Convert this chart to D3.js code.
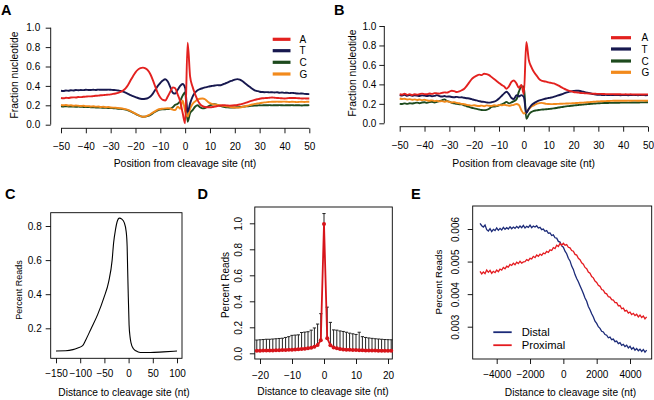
<!DOCTYPE html>
<html><head><meta charset="utf-8">
<script src="https://cdn.jsdelivr.net/npm/d3@7"></script>
<style>body{margin:0;background:#fff;} svg{display:block;}</style>
</head><body><svg id="c" width="654" height="400"></svg>
<script>
// ---------------- DATA ----------------
const nucPositions = d3.range(-50, 51);           // -50 .. 50 nt
const nucTicks = [-50,-40,-30,-20,-10,0,10,20,30,40,50];
const fracTicks = [0,0.2,0.4,0.6,0.8,1.0];
const nucNames = ["A","T","C","G"];

const panelA_A = [0.275,0.272,0.278,0.276,0.280,0.282,0.281,0.285,0.284,0.288,
 0.289,0.292,0.292,0.295,0.298,0.300,0.303,0.305,0.308,0.310,
 0.313,0.318,0.322,0.328,0.338,0.352,0.375,0.410,0.455,0.500,
 0.540,0.568,0.583,0.588,0.580,0.560,0.520,0.460,0.390,0.325,
 0.280,0.255,0.250,0.290,0.340,0.385,0.375,0.310,0.240,0.120,
 0.015,
 0.845,0.495,0.390,0.316,0.254,0.213,0.192,0.182,0.180,0.180,
 0.182,0.188,0.192,0.196,0.200,0.200,0.198,0.197,0.198,0.200,
 0.203,0.208,0.215,0.222,0.230,0.240,0.248,0.256,0.262,0.268,
 0.272,0.274,0.276,0.278,0.280,0.278,0.276,0.274,0.272,0.270,
 0.272,0.275,0.276,0.275,0.274,0.272,0.270,0.271,0.270,0.270];
const panelA_T = [0.350,0.348,0.352,0.350,0.355,0.353,0.357,0.355,0.358,0.356,
 0.360,0.358,0.357,0.360,0.358,0.362,0.360,0.361,0.360,0.362,
 0.360,0.358,0.356,0.352,0.348,0.340,0.330,0.318,0.305,0.295,
 0.285,0.275,0.268,0.265,0.268,0.275,0.290,0.320,0.360,0.400,
 0.430,0.455,0.468,0.445,0.390,0.330,0.320,0.360,0.400,0.420,
 0.380,
 0.130,0.220,0.290,0.330,0.355,0.368,0.376,0.384,0.390,0.396,
 0.400,0.404,0.408,0.406,0.414,0.424,0.434,0.446,0.455,0.465,
 0.470,0.465,0.450,0.430,0.410,0.390,0.370,0.355,0.347,0.340,
 0.337,0.335,0.336,0.333,0.335,0.332,0.334,0.330,0.332,0.328,
 0.330,0.326,0.328,0.325,0.322,0.320,0.322,0.318,0.316,0.315];
const panelA_C = [0.190,0.188,0.190,0.187,0.188,0.186,0.185,0.186,0.184,0.183,
 0.182,0.183,0.180,0.180,0.178,0.178,0.176,0.175,0.174,0.172,
 0.172,0.170,0.168,0.165,0.163,0.160,0.155,0.148,0.138,0.125,
 0.112,0.098,0.088,0.082,0.083,0.090,0.102,0.118,0.135,0.148,
 0.155,0.158,0.160,0.162,0.165,0.180,0.205,0.215,0.245,0.300,
 0.335,
 0.030,0.120,0.150,0.185,0.200,0.180,0.168,0.172,0.185,0.198,
 0.208,0.212,0.205,0.195,0.188,0.183,0.180,0.178,0.177,0.178,
 0.180,0.182,0.185,0.188,0.190,0.192,0.195,0.197,0.198,0.200,
 0.199,0.201,0.200,0.202,0.199,0.201,0.200,0.202,0.200,0.199,
 0.201,0.200,0.202,0.199,0.201,0.200,0.198,0.201,0.200,0.202];
const panelA_G = [0.205,0.200,0.203,0.198,0.200,0.196,0.198,0.195,0.193,0.195,
 0.190,0.192,0.188,0.190,0.186,0.187,0.183,0.185,0.180,0.182,
 0.178,0.176,0.175,0.172,0.170,0.165,0.160,0.152,0.140,0.128,
 0.115,0.100,0.088,0.082,0.085,0.095,0.108,0.125,0.140,0.155,
 0.162,0.165,0.168,0.170,0.168,0.155,0.150,0.185,0.165,0.250,
 0.140,
 0.085,0.165,0.215,0.240,0.258,0.268,0.270,0.262,0.240,0.222,
 0.212,0.208,0.205,0.200,0.196,0.192,0.188,0.184,0.180,0.177,
 0.176,0.178,0.182,0.188,0.195,0.202,0.208,0.214,0.218,0.222,
 0.226,0.230,0.233,0.235,0.237,0.236,0.238,0.236,0.237,0.238,
 0.236,0.234,0.236,0.235,0.233,0.235,0.236,0.234,0.236,0.237];

const panelB_A = [0.298,0.295,0.305,0.292,0.300,0.290,0.298,0.295,0.300,0.305,
 0.300,0.298,0.306,0.302,0.310,0.308,0.305,0.312,0.318,0.315,
 0.325,0.335,0.330,0.322,0.328,0.340,0.355,0.385,0.420,0.455,
 0.475,0.490,0.500,0.495,0.510,0.505,0.495,0.475,0.455,0.435,
 0.415,0.395,0.380,0.355,0.380,0.425,0.440,0.410,0.365,0.395,
 0.300,
 0.835,0.650,0.580,0.530,0.495,0.460,0.440,0.432,0.428,0.420,
 0.415,0.410,0.400,0.388,0.372,0.358,0.345,0.335,0.328,0.322,
 0.318,0.315,0.312,0.310,0.308,0.306,0.305,0.304,0.303,0.302,
 0.302,0.301,0.300,0.300,0.299,0.300,0.298,0.299,0.298,0.297,
 0.298,0.297,0.298,0.296,0.297,0.296,0.297,0.296,0.297,0.297];
const panelB_T = [0.290,0.285,0.292,0.283,0.290,0.282,0.288,0.285,0.280,0.287,
 0.284,0.280,0.286,0.278,0.282,0.290,0.280,0.275,0.280,0.274,
 0.276,0.270,0.268,0.272,0.266,0.268,0.262,0.258,0.255,0.248,
 0.240,0.235,0.228,0.222,0.220,0.215,0.212,0.216,0.222,0.235,
 0.255,0.280,0.305,0.325,0.300,0.260,0.250,0.290,0.275,0.290,
 0.270,
 0.105,0.150,0.185,0.205,0.220,0.232,0.240,0.248,0.255,0.260,
 0.265,0.272,0.280,0.288,0.296,0.305,0.315,0.322,0.328,0.332,
 0.335,0.335,0.330,0.325,0.318,0.312,0.306,0.300,0.296,0.293,
 0.292,0.291,0.292,0.290,0.291,0.290,0.291,0.290,0.289,0.290,
 0.290,0.289,0.290,0.291,0.290,0.289,0.290,0.290,0.289,0.290];
const panelB_C = [0.200,0.198,0.205,0.200,0.206,0.203,0.208,0.212,0.206,0.214,
 0.216,0.210,0.218,0.222,0.214,0.220,0.228,0.236,0.246,0.230,
 0.222,0.210,0.205,0.200,0.196,0.194,0.185,0.175,0.168,0.160,
 0.154,0.148,0.142,0.137,0.135,0.138,0.150,0.168,0.172,0.176,
 0.185,0.195,0.205,0.220,0.205,0.215,0.228,0.245,0.325,0.376,
 0.378,
 0.045,0.090,0.115,0.128,0.133,0.137,0.140,0.142,0.144,0.147,
 0.150,0.153,0.157,0.162,0.166,0.170,0.174,0.177,0.180,0.183,
 0.185,0.188,0.191,0.193,0.196,0.198,0.200,0.202,0.204,0.206,
 0.207,0.208,0.208,0.209,0.210,0.210,0.211,0.211,0.212,0.212,
 0.212,0.213,0.213,0.214,0.214,0.214,0.215,0.215,0.216,0.216];
const panelB_G = [0.255,0.250,0.252,0.245,0.248,0.242,0.246,0.240,0.244,0.238,
 0.242,0.236,0.232,0.236,0.228,0.232,0.225,0.228,0.222,0.226,
 0.220,0.214,0.218,0.210,0.206,0.200,0.196,0.190,0.186,0.182,
 0.186,0.180,0.178,0.182,0.176,0.184,0.180,0.178,0.185,0.182,
 0.188,0.185,0.190,0.186,0.180,0.185,0.190,0.198,0.188,0.135,
 0.100,
 0.120,0.145,0.170,0.185,0.198,0.205,0.210,0.206,0.200,0.198,
 0.197,0.198,0.199,0.200,0.201,0.202,0.203,0.204,0.205,0.207,
 0.208,0.210,0.211,0.213,0.215,0.217,0.219,0.221,0.223,0.225,
 0.226,0.227,0.228,0.229,0.230,0.231,0.231,0.232,0.232,0.232,
 0.232,0.233,0.232,0.233,0.233,0.232,0.233,0.233,0.232,0.233];

// Panel C
const cDist = [-150,-130,-115,-105,-95,-88,-78,-64,-51,-41,-34,-31,-27,-24,-19,-14,-9,-5,-3,-2,-1,1,3,5,10,15,24,45,72,100];
const cReads = [0.067,0.068,0.075,0.085,0.098,0.135,0.195,0.280,0.380,0.475,0.600,0.700,0.780,0.822,0.846,0.840,0.820,0.767,0.680,0.550,0.430,0.220,0.150,0.115,0.080,0.068,0.058,0.058,0.062,0.067];
const cXTicks = [-150,-100,-50,0,50,100];
const cYTicks = [0.2,0.4,0.6,0.8];

// Panel D
const dPos = [-21,-20,-19,-18,-17,-16,-15,-14,-13,-12,-11,-10,-9,-8,-7,-6,-5,-4,-3,-2,-1,0,1,2,3,4,5,6,7,8,9,10,11,12,13,14,15,16,17,18,19,20,21];
const dReads = [0.020,0.020,0.021,0.021,0.022,0.022,0.023,0.024,0.025,0.026,0.027,0.028,0.030,0.031,0.033,0.035,0.038,0.043,0.050,0.064,0.100,0.995,0.115,0.062,0.045,0.038,0.033,0.030,0.028,0.027,0.026,0.025,0.024,0.023,0.022,0.022,0.021,0.021,0.020,0.020,0.020,0.020,0.020];
const dUpper = [0.102,0.104,0.106,0.108,0.108,0.110,0.112,0.114,0.116,0.122,0.128,0.138,0.140,0.142,0.160,0.163,0.166,0.178,0.195,0.225,0.305,1.075,0.355,0.238,0.180,0.178,0.172,0.168,0.162,0.155,0.150,0.145,0.162,0.128,0.122,0.118,0.115,0.112,0.110,0.108,0.106,0.105,0.104];
const dXTicks = [-20,-10,0,10,20];
const dYTicks = [0,0.2,0.4,0.6,0.8,1.0];

// Panel E (values in units of 0.001)
const ePos = d3.range(-5000, 5001, 100);
const eDistal = [6.17,6.10,6.06,6.12,5.98,5.94,6.01,5.92,5.99,5.95,
 6.03,5.96,6.02,5.97,6.05,5.99,6.04,6.00,6.07,6.01,
 6.06,6.02,6.08,6.03,6.09,6.04,6.11,6.03,6.08,6.05,
 6.12,6.04,6.09,6.06,6.10,6.03,6.05,5.98,6.00,5.93,
 5.95,5.87,5.88,5.80,5.82,5.73,5.72,5.62,5.60,5.48,
 5.44,
 5.32,5.24,5.10,5.02,4.86,4.76,4.60,4.48,4.38,4.26,
 4.14,4.02,3.88,3.78,3.62,3.52,3.40,3.30,3.17,3.10,
 3.00,2.95,2.86,2.84,2.76,2.74,2.66,2.68,2.60,2.62,
 2.54,2.56,2.48,2.51,2.43,2.46,2.39,2.43,2.35,2.40,
 2.31,2.36,2.28,2.33,2.26,2.31,2.24,2.30,2.22,2.28];
const eProximal = [4.70,4.62,4.68,4.63,4.74,4.67,4.73,4.64,4.70,4.66,
 4.74,4.69,4.77,4.74,4.82,4.78,4.86,4.83,4.91,4.88,
 4.95,4.90,4.98,4.94,5.01,4.95,4.99,5.00,5.06,5.03,
 5.10,5.08,5.16,5.12,5.20,5.16,5.23,5.19,5.26,5.24,
 5.31,5.28,5.36,5.34,5.43,5.40,5.50,5.46,5.56,5.50,
 5.56,
 5.50,5.52,5.44,5.42,5.34,5.32,5.22,5.20,5.10,5.06,
 4.96,4.92,4.82,4.78,4.68,4.64,4.54,4.50,4.40,4.36,
 4.27,4.24,4.14,4.12,4.03,4.01,3.92,3.91,3.83,3.82,
 3.74,3.74,3.64,3.65,3.55,3.57,3.48,3.50,3.42,3.45,
 3.37,3.41,3.34,3.38,3.30,3.36,3.28,3.33,3.24,3.30];
const eXTicks = [-4000,-2000,0,2000,4000];
const eYTicks = [3,4,5,6];
const eYTickLabels = ["0.003","0.004","0.005","0.006"];
const eSeriesNames = ["Distal","Proximal"];

// ---------------- DRAWING ----------------
const FONT = '"Liberation Sans", Arial, Helvetica, sans-serif';
const nucColors = {A:"#e3211f", T:"#17184f", C:"#1d4a1d", G:"#f28a1c"};
const svg = d3.select("#c").attr("font-family", FONT);

function styleAxis(a, fs){
  a.attr("font-family", FONT).attr("font-size", fs);
  a.selectAll("text").attr("fill","#000");
  a.selectAll("line").attr("stroke","#000").attr("stroke-width",0.9);
  a.select(".domain").attr("stroke","#000").attr("stroke-width",0.9);
}
function axisBottom(scale, ticks, y, fmt, pad, fs, drawDomain){
  const a = svg.append("g").attr("transform",`translate(0,${y})`)
    .call(d3.axisBottom(scale).tickValues(ticks).tickFormat(fmt).tickSize(5).tickPadding(pad).tickSizeOuter(0));
  a.select(".domain").attr("d", `M${scale(ticks[0])},0H${scale(ticks[ticks.length-1])}`);
  if(!drawDomain) a.select(".domain").remove();
  styleAxis(a, fs);
  return a;
}
function axisLeft(scale, ticks, x, fmt, pad, fs, drawDomain, rotated, rotX){
  const a = svg.append("g").attr("transform",`translate(${x},0)`)
    .call(d3.axisLeft(scale).tickValues(ticks).tickFormat(fmt).tickSize(5).tickPadding(pad).tickSizeOuter(0));
  a.select(".domain").attr("d", `M0,${scale(ticks[0])}V${scale(ticks[ticks.length-1])}`);
  if(!drawDomain) a.select(".domain").remove();
  if(rotated){
    a.selectAll(".tick text").attr("x",null).attr("dy",null)
      .attr("text-anchor","middle").attr("transform",`translate(${rotX},0) rotate(-90)`);
  }
  styleAxis(a, fs);
  return a;
}
function label(x, y, s, fs, opts={}){
  const t = svg.append("text").attr("x",x).attr("y",y).text(s)
    .attr("font-size",fs).attr("font-family",FONT).attr("fill","#000")
    .attr("text-anchor", opts.anchor || "start");
  if(opts.bold) t.attr("font-weight","bold");
  if(opts.rotate) t.attr("transform",`rotate(-90,${x},${y})`);
  return t;
}
function box(x0,y0,x1,y1){
  svg.append("rect").attr("x",x0).attr("y",y0).attr("width",x1-x0).attr("height",y1-y0)
    .attr("fill","none").attr("stroke","#000").attr("stroke-width",0.9);
}
const fmt1 = d3.format(".1f");

// ---- Panels A and B ----
function nucPanel(cfg, series){
  const x = d3.scaleLinear().domain([-50,50]).range([cfg.x0, cfg.x1]);
  const y = d3.scaleLinear().domain([0,1]).range([cfg.y0, cfg.y1]);
  axisLeft(y, fracTicks, cfg.yAxisX, fmt1, cfg.yPad, 10, true, false);
  axisBottom(x, nucTicks, cfg.xAxisY, d3.format("d"), cfg.xPad, 10, true);
  const line = d3.line().x((d,i)=>x(nucPositions[i])).y(d=>y(d)).curve(d3.curveMonotoneX);
  ["C","G","T","A"].forEach(k=>{
    svg.append("path").datum(series[k]).attr("d",line).attr("fill","none")
      .attr("stroke",nucColors[k]).attr("stroke-width",1.9).attr("stroke-linejoin","round");
  });
  nucNames.forEach((k,i)=>{
    const ly = cfg.legY[i];
    svg.append("line").attr("x1",cfg.legX0).attr("x2",cfg.legX1).attr("y1",ly).attr("y2",ly)
      .attr("stroke",nucColors[k]).attr("stroke-width",3.2);
    label(cfg.legTX, ly+3.6, k, 10);
  });
  label(cfg.yTitleX, cfg.yTitleY, "Fraction nucleotide", 10.3, {anchor:"middle", rotate:true});
  label(cfg.xTitleX, 167, "Position from cleavage site (nt)", 10.4, {anchor:"middle"});
}
nucPanel({x0:61, x1:309.3, y0:124.7, y1:27.7, yAxisX:50.7, yPad:5.5, xAxisY:128.3, xPad:9.3,
  legX0:272.7, legX1:290.5, legTX:299.5, legY:[39.3,50.7,62.3,74],
  yTitleX:17.6, yTitleY:75, xTitleX:185},
  {A:panelA_A, T:panelA_T, C:panelA_C, G:panelA_G});
nucPanel({x0:399.7, x1:648, y0:123.3, y1:26, yAxisX:384.3, yPad:3, xAxisY:126.7, xPad:10,
  legX0:611, legX1:631, legTX:641.5, legY:[37.7,49,61,72.3],
  yTitleX:355.6, yTitleY:73, xTitleX:523.7},
  {A:panelB_A, T:panelB_T, C:panelB_C, G:panelB_G});

// ---- Panel C ----
{
  const x = d3.scaleLinear().domain([-150,100]).range([56,177]);
  const y = d3.scaleLinear().domain([0.2,0.8]).range([328.3,226]);
  box(50.7,212.7,182,358.3);
  axisLeft(y, cYTicks, 50.7, fmt1, 4, 10, false, false);
  axisBottom(x, cXTicks, 358.3, d3.format("d"), 6.3, 10, false);
  const line = d3.line().x((d,i)=>x(cDist[i])).y(d=>y(d)).curve(d3.curveMonotoneX);
  svg.append("path").datum(cReads).attr("d",line).attr("fill","none").attr("stroke","#000").attr("stroke-width",1.1);
  label(21.6, 290, "Percent Reads", 9, {anchor:"middle", rotate:true});
  label(124, 395.5, "Distance to cleavage site (nt)", 10.2, {anchor:"middle"});
}

// ---- Panel D ----
{
  const x = d3.scaleLinear().domain([-20,20]).range([260,388]);
  const y = d3.scaleLinear().domain([0,1]).range([353.3,223.3]);
  box(254.8,207,392.3,359);
  axisLeft(y, dYTicks, 254.8, fmt1, 0, 10, false, true, -13.2);
  axisBottom(x, dXTicks, 359, d3.format("d"), 8.2, 10, false);
  const g = svg.append("g");
  dPos.forEach((p,i)=>{
    g.append("line").attr("x1",x(p)).attr("x2",x(p)).attr("y1",y(dReads[i])).attr("y2",y(dUpper[i]))
      .attr("stroke","#222").attr("stroke-width",1);
    g.append("line").attr("x1",x(p)-1.6).attr("x2",x(p)+1.6).attr("y1",y(dUpper[i])).attr("y2",y(dUpper[i]))
      .attr("stroke","#222").attr("stroke-width",1);
  });
  const line = d3.line().x((d,i)=>x(dPos[i])).y(d=>y(d));
  svg.append("path").datum(dReads).attr("d",line).attr("fill","none").attr("stroke","#d7141a").attr("stroke-width",1.8);
  svg.append("g").selectAll("circle").data(dReads).join("circle")
    .attr("cx",(d,i)=>x(dPos[i])).attr("cy",d=>y(d)).attr("r",2).attr("fill","#d7141a");
  label(228.8, 285, "Percent Reads", 10, {anchor:"middle", rotate:true});
  label(323, 395, "Distance to cleavage site (nt)", 10.2, {anchor:"middle"});
}

// ---- Panel E ----
{
  const x = d3.scaleLinear().domain([-4000,4000]).range([496.7,630]);
  const y = d3.scaleLinear().domain([3,6]).range([326.7,229]);
  const colors = ["#1b2a78","#e41a1f"];
  box(472.7,206,651.7,359);
  axisLeft(y, eYTicks, 472.7, (d,i)=>eYTickLabels[i], 0, 10, false, true, -13.6);
  axisBottom(x, eXTicks, 359, d3.format("d"), 7.2, 10, false);
  [eDistal, eProximal].forEach((s,k)=>{
    const line = d3.line().x((d,i)=>x(ePos[i])).y(d=>y(d));
    svg.append("path").datum(s).attr("d",line).attr("fill","none").attr("stroke",colors[k]).attr("stroke-width",1.3);
  });
  const legY = [332.2, 345.2];
  eSeriesNames.forEach((n,k)=>{
    svg.append("line").attr("x1",493.3).attr("x2",511.7).attr("y1",legY[k]).attr("y2",legY[k])
      .attr("stroke",colors[k]).attr("stroke-width",1.8);
    label(521.7, legY[k]+4.1, n, 11.2);
  });
  label(442, 282, "Percent Reads", 9.8, {anchor:"middle", rotate:true});
  label(570.5, 396, "Distance to cleavage site (nt)", 10.2, {anchor:"middle"});
}

// ---- panel letters ----
[["A",1,14.5],["B",334,14.5],["C",5,198.5],["D",197.5,198.5],["E",411,198.5]].forEach(([s,x,y])=>{
  label(x, y, s, 14.5, {bold:true});
});
</script></body></html>
